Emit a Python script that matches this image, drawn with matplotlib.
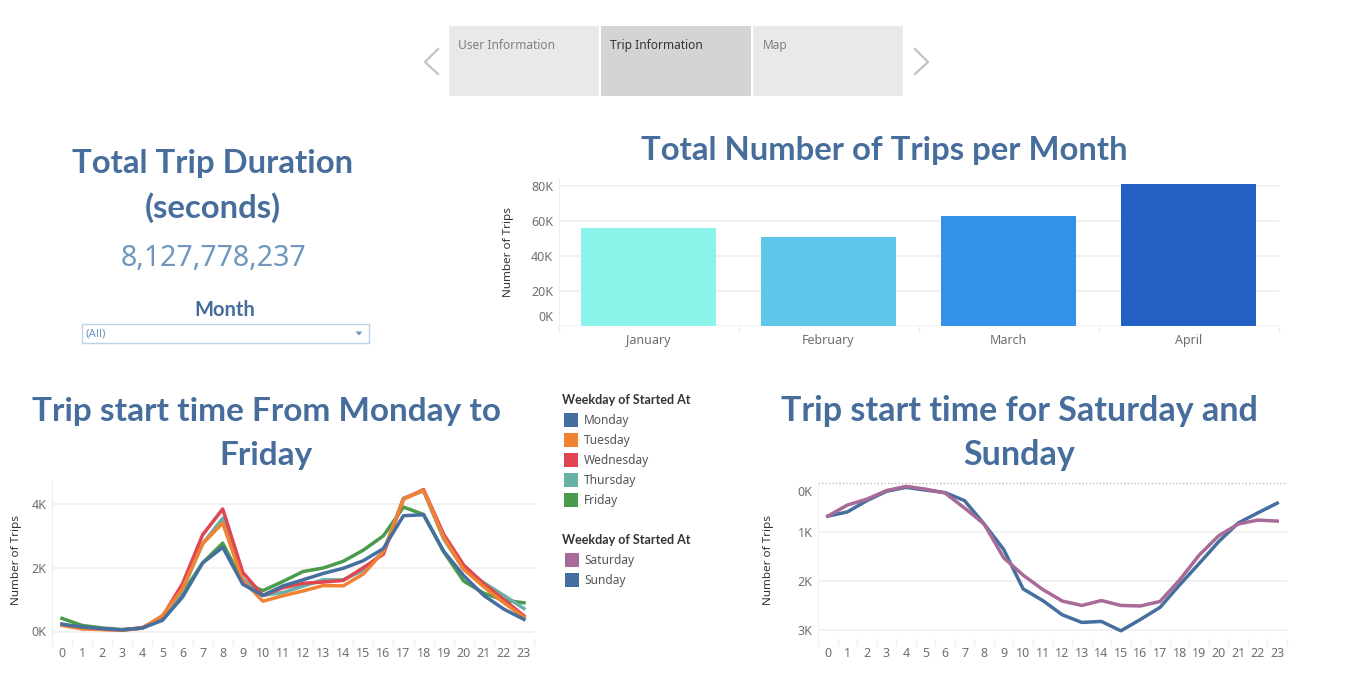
import matplotlib
matplotlib.use("Agg")
import matplotlib.pyplot as plt
from matplotlib.patches import Rectangle, Polygon
from matplotlib.transforms import ScaledTranslation

plt.rcParams['font.family'] = ['Noto Sans', 'DejaVu Sans']

W, H = 1345, 690

# ---------- data ----------
months = ["January", "February", "March", "April"]
month_trips = [56000, 50900, 62900, 81000]
hours = list(range(24))

monday = [230,140,90,50,110,350,1080,2150,2640,1480,1130,1430,1620,1820,1980,2220,2600,3630,3660,2520,1750,1130,700,380]
tuesday = [190,80,60,40,100,500,1350,2750,3400,1600,950,1120,1270,1440,1430,1800,2500,4150,4430,2950,1950,1400,900,450]
wednesday = [220,100,70,50,120,470,1500,3030,3840,1850,1130,1370,1510,1550,1600,2000,2420,4150,4450,3050,2080,1500,1000,490]
thursday = [220,110,70,50,110,420,1300,2750,3550,1650,1130,1220,1420,1620,1620,1920,2500,4180,4400,2900,1950,1530,1130,720]
friday = [410,190,110,60,110,400,1200,2150,2770,1550,1280,1570,1880,1990,2200,2550,3000,3900,3670,2500,1580,1200,980,900]

saturday = [680,455,335,160,75,130,210,515,840,1525,1880,2170,2405,2495,2395,2495,2505,2415,1980,1475,1080,840,760,780]
sunday = [680,595,365,175,95,150,200,365,840,1355,2160,2395,2685,2840,2820,3010,2780,2535,2080,1645,1200,820,615,415]

weekday_names = ["Monday", "Tuesday", "Wednesday", "Thursday", "Friday"]
weekend_names = ["Saturday", "Sunday"]
tab_names = ["User Information", "Trip Information", "Map"]

# ---------- styles ----------
C_TITLE = "#466d9b"
C_TICK = "#6f6f6f"
C_AXT = "#333333"
C_GRID = "#efefef"
C_WD = ["#456f9e", "#f28232", "#e04552", "#69b0a8", "#4b9b4d"]
C_WE = ["#a86a96", "#456f9e"]
C_BAR = ["#8af4ea", "#5ec6e8", "#3391e8", "#2260c3"]
LW = 2.5
TITLE_FONT = dict(family=["Lato", "DejaVu Sans"], weight="bold", color=C_TITLE, ha="center", va="center")

fig = plt.figure(figsize=(W / 100, H / 100), dpi=100, facecolor="white")


def axes_px(x0, y0, x1, y1):
    return fig.add_axes([x0 / W, 1 - y1 / H, (x1 - x0) / W, (y1 - y0) / H])


bg = fig.add_axes([0, 0, 1, 1], zorder=0)
bg.set_xlim(0, W)
bg.set_ylim(H, 0)
bg.axis("off")


def style(ax):
    ax.set_facecolor("none")
    for s in ["top", "right"]:
        ax.spines[s].set_visible(False)
    ax.spines["left"].set_color(C_GRID)
    ax.spines["bottom"].set_visible(False)
    ax.grid(axis="y", color=C_GRID, lw=1.2)
    ax.set_axisbelow(True)
    ax.tick_params(axis="y", length=0, labelsize=9, labelcolor=C_TICK, pad=4)
    ax.tick_params(axis="x", which="major", length=0, labelsize=9, labelcolor=C_TICK, pad=6)
    ax.tick_params(axis="x", which="minor", length=5, color=C_GRID, width=1)


def shift(label, dy):
    label.set_transform(label.get_transform() + ScaledTranslation(0, dy / 100, fig.dpi_scale_trans))


# ---------- navigation tabs ----------
for i, name in enumerate(tab_names):
    x0 = 449 + i * 152
    active = i == 1
    bg.add_patch(Rectangle((x0, 26), 150, 70, fc="#d4d4d4" if active else "#e9e9e9", ec="none"))
    bg.text(x0 + 9.5, 45.5, name, fontsize=8.6, va="center", color="#333333" if active else "#7f7f7f")
bg.plot([438, 425, 438], [49, 62, 74], color="#c2c2c2", lw=1.6)
bg.plot([915, 928, 915], [49, 62, 74], color="#c2c2c2", lw=1.6)

# ---------- KPI ----------
bg.text(213, 164, "Total Trip Duration", fontsize=23.7, **TITLE_FONT)
bg.text(213, 208, "(seconds)", fontsize=23.7, **TITLE_FONT)
bg.text(213, 258, "8,127,778,237", fontsize=20.5, color="#6f97bd", ha="center", va="center")
bg.text(225, 310, "Month", fontsize=14.5, **TITLE_FONT)
bg.add_patch(Rectangle((81.5, 323.5), 287, 19, fc="white", ec="#bcd2e8", lw=1))
bg.text(86, 333.5, "(All)", fontsize=8.4, color="#6e97c3", va="center")
bg.add_patch(Polygon([[355.5, 331.5], [362.5, 331.5], [359, 335.5]], fc="#6e97c3", ec="none"))

# ---------- bar chart ----------
bg.text(884, 150.5, "Total Number of Trips per Month", fontsize=23.7, **TITLE_FONT)
ax = axes_px(558.5, 178, 1278.5, 326)
style(ax)
ax.bar(range(4), month_trips, width=0.75, color=C_BAR)
ax.set_xlim(-0.5, 3.5)
ax.set_ylim(0, (326 - 178) / 35 * 20000)
ax.set_yticks([0, 20000, 40000, 60000, 80000], ["0K", "20K", "40K", "60K", "80K"])
ax.set_xticks(range(4), months)
ax.set_xticks([-0.5, 0.5, 1.5, 2.5, 3.5], minor=True)
shift(ax.get_yticklabels()[0], 10)
bg.text(509, 252, "Number of Trips", fontsize=8.4, rotation=90, color=C_AXT, ha="center", va="center")

# ---------- weekday chart ----------
bg.text(266, 411, "Trip start time From Monday to", fontsize=24, **TITLE_FONT)
bg.text(266, 455, "Friday", fontsize=24, **TITLE_FONT)
ax = axes_px(52, 480, 534, 639)
style(ax)
series = [monday, tuesday, wednesday, thursday, friday]
for idx in [4, 3, 2, 1, 0]:
    ax.plot(hours, series[idx], color=C_WD[idx], lw=LW, solid_joinstyle="round")
ax.set_xlim(-0.5, 23.5)
ax.set_ylim(-(639 - 631.5) / 31.9 * 1000, (631.5 - 480) / 31.9 * 1000)
ax.set_yticks([0, 2000, 4000], ["0K", "2K", "4K"])
ax.set_xticks(hours, [str(h) for h in hours])
ax.set_xticks([h - 0.5 for h in range(25)], minor=True)
bg.text(17, 560, "Number of Trips", fontsize=8.4, rotation=90, color=C_AXT, ha="center", va="center")

# ---------- legends ----------
LEG_T = dict(family=["Lato", "DejaVu Sans"], weight="bold", fontsize=9, color="#333333", va="center")
bg.text(562, 400, "Weekday of Started At", **LEG_T)
for i, name in enumerate(weekday_names):
    y = 420 + i * 20
    bg.add_patch(Rectangle((564, y - 7), 14, 14, fc=C_WD[i], ec="none"))
    bg.text(584, y + 0.5, name, fontsize=8.6, color="#555555", va="center")
bg.text(562, 540, "Weekday of Started At", **LEG_T)
for i, name in enumerate(weekend_names):
    y = 560 + i * 20
    bg.add_patch(Rectangle((565, y - 7), 14, 14, fc=C_WE[i], ec="none"))
    bg.text(584, y + 0.5, name, fontsize=8.6, color="#555555", va="center")

# ---------- weekend chart ----------
bg.text(1019, 411, "Trip start time for Saturday and", fontsize=24.5, **TITLE_FONT)
bg.text(1019, 455, "Sunday", fontsize=24.5, **TITLE_FONT)
ax = axes_px(818, 482.7, 1287, 639)
style(ax)
ax.plot(hours, sunday, color=C_WE[1], lw=LW, solid_joinstyle="round")
ax.plot(hours, saturday, color=C_WE[0], lw=LW, solid_joinstyle="round")
ax.set_xlim(-0.5, 23.5)
ax.set_ylim((639 - 482.7) / 49.2 * 1000, 0)
ax.set_yticks([0, 1000, 2000, 3000], ["0K", "1K", "2K", "3K"])
ax.set_xticks(hours, [str(h) for h in hours])
ax.set_xticks([h - 0.5 for h in range(25)], minor=True)
ax.get_ygridlines()[0].set(color="#bdbdbd", ls=(0, (1, 1.5)), lw=1, clip_on=False)
shift(ax.get_yticklabels()[0], -8)
bg.text(769, 560, "Number of Trips", fontsize=8.4, rotation=90, color=C_AXT, ha="center", va="center")

fig.savefig("out.png", dpi=100, facecolor="white")
